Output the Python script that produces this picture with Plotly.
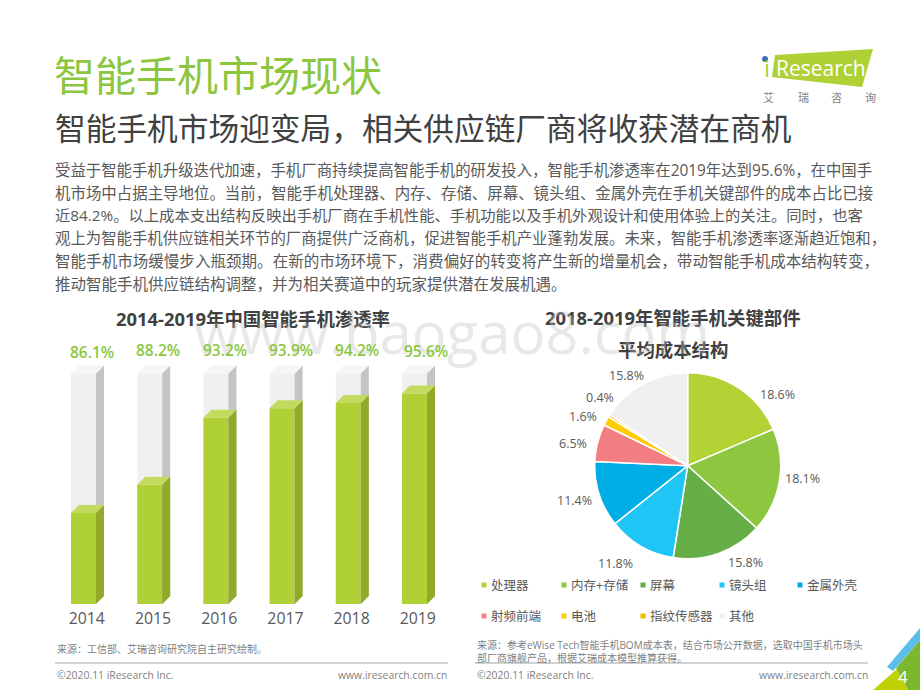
import plotly.graph_objects as go

# 渗透率 chart
years = [2014, 2015, 2016, 2017, 2018, 2019]
rate_labels = ["86.1%", "88.2%", "93.2%", "93.9%", "94.2%", "95.6%"]
# bar heights, its axis is cut and not quite even
bar_heights = [86.1, 88.2, 93.2, 93.9, 94.3, 95.0]
backdrop_height = 96.5

# cost structure chart
parts = ["处理器", "内存+存储", "屏幕", "镜头组", "金属外壳", "射频前端", "电池", "指纹传感器", "其他"]
part_share = [18.6, 18.1, 15.8, 11.8, 11.4, 6.5, 1.6, 0.4, 15.8]
part_colors = ["#B3D235", "#8DC63F", "#66AE46", "#1FC5F5", "#00AEE6", "#F27E84", "#FFCB05", "#F4B800", "#EFEFEF"]

body_lines = [
    "受益于智能手机升级迭代加速,手机厂商持续提高智能手机的研发投入,智能手机渗透率在2019年达到95.6%,在中国手",
    "机市场中占据主导地位。当前,智能手机处理器、内存、存储、屏幕、镜头组、金属外壳在手机关键部件的成本占比已接",
    "近84.2%。以上成本支出结构反映出手机厂商在手机性能、手机功能以及手机外观设计和使用体验上的关注。同时,也客",
    "观上为智能手机供应链相关环节的厂商提供广泛商机,促进智能手机产业蓬勃发展。未来,智能手机渗透率逐渐趋近饱和,",
    "智能手机市场缓慢步入瓶颈期。在新的市场环境下,消费偏好的转变将产生新的增量机会,带动智能手机成本结构转变,",
    "推动智能手机供应链结构调整,并为相关赛道中的玩家提供潜在发展机遇。",
]
# the paragraph is justified in the original, so each line gets its own size
body_sizes = [15.4, 15.45, 15.3, 15.4, 15.55, 15.5]

W, H = 920, 690
FONT = "Open Sans, Noto Sans CJK SC, sans-serif"
GREEN = "#8CC63F"
GREY = "#595959"

# bar geometry, pixels per unit on each axis
PX_X = 66.2
PX_Y = 13.4
FLOOR = 79.3
bar_w = 25 / PX_X
dx = 8 / PX_X
dy = 8 / PX_Y

# where the text labels sit in the page
rate_label_xy = [(92, 351.5), (158, 350), (225, 350), (291, 350), (357, 349.5), (426, 351)]
pie_label_xy = [(777, 394), (802, 478), (745, 562), (615, 563), (574, 500), (573, 444), (583, 416), (600, 397), (626, 375)]
logo_chars = [("艾", 768), ("瑞", 803), ("咨", 836), ("询", 870)]


def px(x):
    return x / W


def py(y):
    return 1 - y / H


def poly(xs, ys, color):
    return go.Scatter(x=xs, y=ys, fill="toself", fillcolor=color, mode="lines", line=dict(width=0),
                      hoverinfo="skip", showlegend=False)


def bar_3d(fig, values, front, side, top):
    fig.add_trace(go.Bar(x=years, y=values, width=bar_w, marker=dict(color=front, line=dict(width=0)),
                         hoverinfo="skip", showlegend=False))
    for yr, v in zip(years, values):
        r = yr + bar_w / 2
        l = yr - bar_w / 2
        fig.add_trace(poly([r, r + dx, r + dx, r, r], [FLOOR, FLOOR + dy, v + dy, v, FLOOR], side))
        fig.add_trace(poly([l, r, r + dx, l + dx, l], [v, v, v + dy, v + dy, v], top))


def text(x, y, s, size, color=GREY, anchor="left", weight=None):
    return dict(x=px(x), y=py(y), xref="paper", yref="paper", text=s,
                showarrow=False, xanchor=anchor, yanchor="middle",
                font=dict(size=size, color=color, family=FONT, weight=weight))


def rect_path(points, color):
    path = "M" + "L".join(f"{px(a):.4f},{py(b):.4f}" for a, b in points) + "Z"
    return dict(type="path", path=path, xref="paper", yref="paper", fillcolor=color, line=dict(width=0), layer="below")


fig = go.Figure()
bar_3d(fig, [backdrop_height] * len(years), "#F0F0F0", "#C4C4C4", "#F5F5F5")
bar_3d(fig, bar_heights, "#AFD136", "#91AB29", "#C2DB5F")

fig.add_trace(go.Pie(
    labels=parts, values=part_share, sort=False, direction="clockwise", rotation=0,
    marker=dict(colors=part_colors, line=dict(color="white", width=1.5)),
    textinfo="none", showlegend=False,
    domain=dict(x=[px(687.7 - 93), px(687.7 + 93)], y=[py(465.7 + 93), py(465.7 - 93)]),
))

notes = [
    text(52, 75, "智能手机市场现状", 41, GREEN),
    text(53, 128, "智能手机市场迎变局\uff0c相关供应链厂商将收获潜在商机", 30.7, "#404040"),
    text(253, 319, "2014-2019年中国智能手机渗透率", 18.4, "#404040", "center", 700),
    text(673, 317, "2018-2019年智能手机关键部件", 18.4, "#404040", "center", 700),
    text(673, 349, "平均成本结构", 18.4, "#404040", "center", 700),
    text(55, 649, "来源\uff1a工信部、艾瑞咨询研究院自主研究绘制。", 10, "#7F7F7F"),
    text(475, 645, "来源\uff1a参考eWise Tech智能手机BOM成本表\uff0c结合市场公开数据\uff0c选取中国手机市场头", 10, "#7F7F7F"),
    text(475, 658, "部厂商旗舰产品\uff0c根据艾瑞成本模型推算获得。", 10, "#7F7F7F"),
    text(55, 675, "©2020.11 iResearch Inc.", 10.4, "#7F7F7F"),
    text(449, 675, "www.iresearch.com.cn", 10.4, "#7F7F7F", "right"),
    text(475, 675, "©2020.11 iResearch Inc.", 10.4, "#7F7F7F"),
    text(870, 675, "www.iresearch.com.cn", 10.4, "#7F7F7F", "right"),
    text(903, 676, "4", 17, "white", "center"),
    text(774, 68, "Research", 21, "white"),
    text(767, 68, "i", 24, "#AFD136", "center"),
    text(452, 331, "www.baogao8.com", 58, "rgba(190,190,190,0.35)", "center"),
]

for ch, x in logo_chars:
    notes.append(text(x, 97, ch, 11, "#7F7F7F", "center"))

for i, (line, size) in enumerate(zip(body_lines, body_sizes)):
    notes.append(text(53, 170 + i * 22.7, line.replace(",", "\uff0c"), size))

# data labels above the columns
for (x, y), lab in zip(rate_label_xy, rate_labels):
    notes.append(text(x, y, lab, 15.5, GREEN, "center", 600))

# pie labels
for (x, y), v in zip(pie_label_xy, part_share):
    notes.append(text(x, y, f"{v:.1f}%", 12.5, GREY, "center"))

shapes = [
    rect_path([(775, 55), (873, 49), (862, 87), (772, 77)], "#AFD136"),
    dict(type="circle", xref="paper", yref="paper", x0=px(762), x1=px(768), y0=py(62), y1=py(56),
         fillcolor="#3F6FB5", line=dict(width=0)),
    rect_path([(896, 668), (920, 640), (920, 690), (908, 690)], "#7CB82F"),
    rect_path([(873, 690), (897, 669), (908, 690)], "#BFD100"),
    rect_path([(887, 667), (920, 628), (920, 640), (893, 671)], "#5BBDEA"),
    dict(type="line", xref="paper", yref="paper", x0=px(55), x1=px(448), y0=py(663), y1=py(663),
         line=dict(color="#A6A6A6", width=1)),
    dict(type="line", xref="paper", yref="paper", x0=px(475), x1=px(868), y0=py(663), y1=py(663),
         line=dict(color="#A6A6A6", width=1)),
]

# legend of the pie, 5 items on the first row
col_x = [484, 564, 643, 722, 800]
for i, (name, color) in enumerate(zip(parts, part_colors)):
    row = 0 if i < 5 else 1
    col = i if i < 5 else i - 5
    cx = col_x[col]
    cy = 585 + row * 31
    shapes.append(dict(type="rect", xref="paper", yref="paper", x0=px(cx - 2.5), x1=px(cx + 2.5),
                       y0=py(cy + 2.5), y1=py(cy - 2.5), fillcolor=color, line=dict(width=0)))
    notes.append(text(cx + 5, cy, name, 12.5))

fig.update_layout(
    width=W, height=H, autosize=False,
    margin=dict(l=0, r=0, t=0, b=0, autoexpand=False),
    paper_bgcolor="white", plot_bgcolor="rgba(0,0,0,0)",
    barmode="overlay", showlegend=False,
    annotations=notes, shapes=shapes,
    xaxis=dict(domain=[px(40), px(460)], range=[2014 - 43.5 / PX_X, 2014 + 376.5 / PX_X],
               tickvals=[y + 0.05 for y in years], ticktext=[str(y) for y in years],
               ticks="", showgrid=False, zeroline=False, showline=False, ticklabelstandoff=3,
               tickfont=dict(size=15.8, color=GREY, family=FONT)),
    yaxis=dict(domain=[py(604), py(340)], range=[FLOOR, FLOOR + 264 / PX_Y],
               showticklabels=False, ticks="", showgrid=False, zeroline=False, showline=False),
)

# page margin would push the chart 8px in
fig.write_html("out.html", config=dict(displayModeBar=False), post_script="document.body.style.margin='0';")
